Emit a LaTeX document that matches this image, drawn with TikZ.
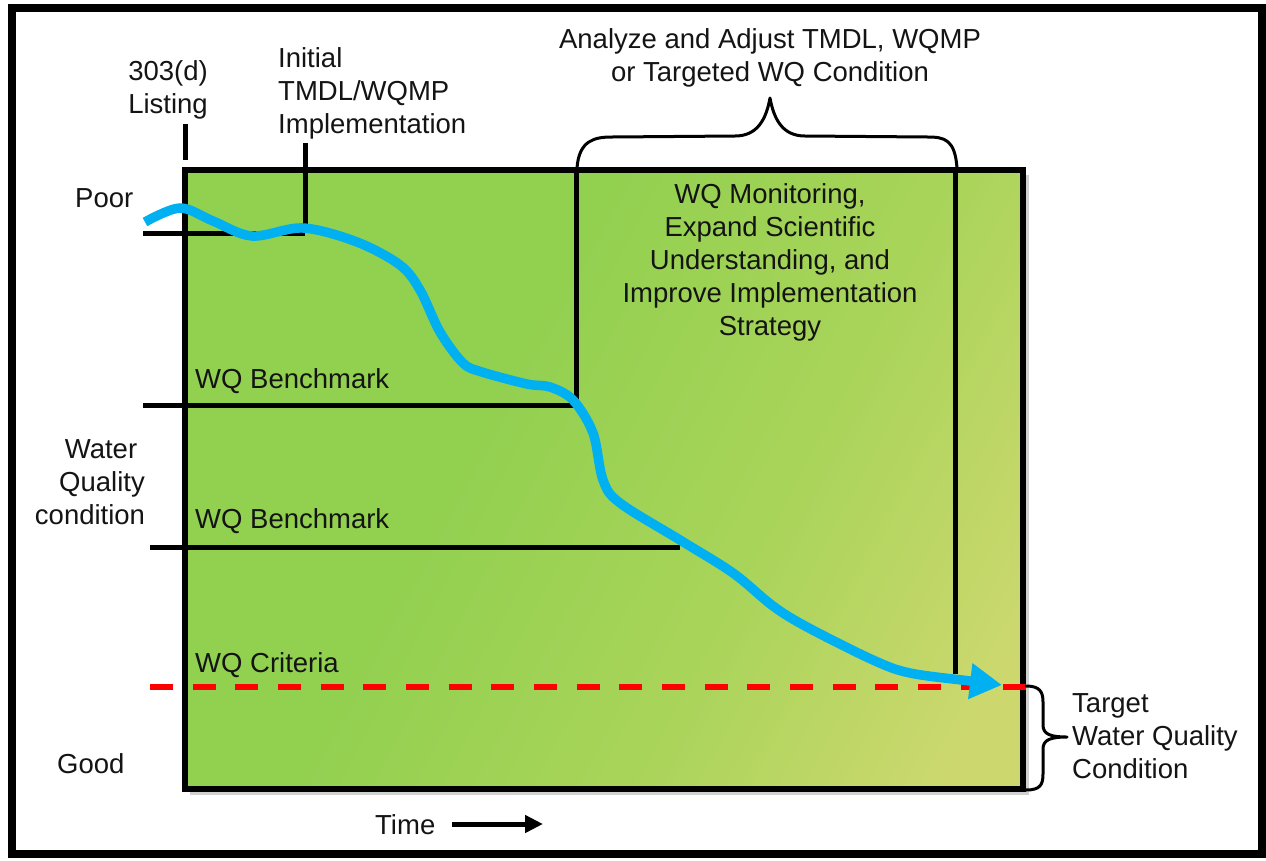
\documentclass[tikz,border=0pt]{standalone}
\usepackage{fontspec}
\setmainfont{Liberation Sans}
\usetikzlibrary{arrows.meta}
\definecolor{gA}{HTML}{92D050}
\definecolor{gB}{HTML}{A9D45A}
\definecolor{gC}{HTML}{CCD86E}
\definecolor{wqblue}{HTML}{00B0F0}
\definecolor{wqred}{HTML}{FF0000}
\definecolor{txt}{HTML}{141414}
\pgfdeclarehorizontalshading{wqshade}{100bp}{color(0bp)=(gA); color(41bp)=(gA); color(61bp)=(gB); color(79bp)=(gC); color(100bp)=(gC)}
\begin{document}
\begin{tikzpicture}[x=1pt,y=-1pt,
  lbl/.style={font=\fontsize{27.5}{33}\selectfont, inner sep=0pt, text=txt},
  bar/.style={line width=5pt, black},
  brace/.style={line width=3pt, black, line cap=round, line join=round},
  flow/.style={line width=9.5pt, wqblue, -{Triangle[length=32pt,width=34pt]}},
  crit/.style={line width=5.5pt, wqred, dash pattern=on 23pt off 19.67pt},
  frame/.style={line width=8pt, black}]
\useasboundingbox (0,0) rectangle (1266,860);
\fill[white] (0,0) rectangle (1266,860);
% outer frame
\draw[frame] (12,8) rectangle (1262,854);
% box shadow and box fill
\fill[black!18] (190,175) rectangle (1029,795);
\shade[shading=wqshade, shading angle=-28] (185,170) rectangle (1023,789);
% coordinates
\coordinate (boxTL) at (185,170);
\coordinate (boxBR) at (1023,789);
\coordinate (lstTop) at (185,124);
\coordinate (lstBot) at (185,160);
\coordinate (impTop) at (305,143);
\coordinate (impBot) at (305,233);
\coordinate (poorL) at (143,233);
\coordinate (bm1L) at (143,405);
\coordinate (bm1R) at (576,405);
\coordinate (bm2L) at (150,547);
\coordinate (bm2R) at (680,547);
\coordinate (v1Top) at (576,170);
\coordinate (v2Top) at (955,170);
\coordinate (v2Bot) at (955,674);
\coordinate (critL) at (150,687);
\coordinate (critR) at (1026,687);
% black lines
\draw[bar] (lstTop) -- (lstBot);
\draw[bar] (impTop) -- (impBot);
\draw[bar] (poorL) -- (impBot);
\draw[bar] (bm1L) -- (bm1R);
\draw[bar] (bm2L) -- (bm2R);
\draw[bar] (v1Top) -- (bm1R);
\draw[bar] (v2Top) -- (v2Bot);
% box border
\draw[line width=6pt] (boxTL) rectangle (boxBR);
% criteria line
\draw[crit] (critL) -- (critR);
% top brace
\draw[brace] (577,168) .. controls (579,140) and (595,137) .. (612,137)
  -- (735,136) .. controls (757,136) and (766,120) .. (770,98)
  .. controls (774,120) and (783,136) .. (805,136)
  -- (928,137) .. controls (945,137) and (955,140) .. (957,168);
% right brace
\draw[brace] (1026,686) .. controls (1040,686) and (1043,692) .. (1043,702)
  -- (1043,725) .. controls (1043,734) and (1050,737) .. (1067,737)
  .. controls (1050,737) and (1043,740) .. (1043,749)
  -- (1043,774) .. controls (1043,785) and (1040,790) .. (1026,790);
% blue flow curve
\draw[flow] plot[smooth, tension=0.55] coordinates {
  (145,222) (180,208) (213,221) (252,236) (303,228) (357,242) (400,265)
  (420,290) (440,332) (463,363) (482,372) (527,384) (550,387) (573,400)
  (593,433) (603,480) (620,503) (680,540) (733,573) (773,606) (807,627)
  (873,660) (910,673) (970,681) (1002,685)};
% labels
\node[lbl, anchor=north, align=center] (listing) at (168,60) {303(d)\\Listing};
\node[lbl, anchor=north west, align=left] (initial) at (278,47) {Initial\\TMDL/WQMP\\Implementation};
\node[lbl, anchor=north, align=center] (analyze) at (770,28) {Analyze and Adjust TMDL, WQMP\\or Targeted WQ Condition};
\node[lbl, anchor=base west] (poor) at (75,207) {Poor};
\node[lbl, anchor=base] (wqc1) at (101,458) {Water};
\node[lbl, anchor=base] (wqc2) at (102,491) {Quality};
\node[lbl, anchor=base] (wqc3) at (90,524) {condition};
\node[lbl, anchor=base west] (good) at (57,773) {Good};
\node[lbl, anchor=base west] (bm1) at (195,388) {WQ Benchmark};
\node[lbl, anchor=base west] (bm2) at (195,528) {WQ Benchmark};
\node[lbl, anchor=base west] (crittext) at (195,672) {WQ Criteria};
\node[lbl, anchor=north, align=center] (monitor) at (770,183) {WQ Monitoring,\\Expand Scientific\\Understanding, and\\Improve Implementation\\Strategy};
\node[lbl, anchor=north west, align=left] (target) at (1072,693) {Target\\Water Quality\\Condition};
\node[lbl, anchor=base west] (time) at (375,834) {Time};
\coordinate (tA) at (452,824);
\coordinate (tB) at (543,824);
\draw[line width=5pt, -{Triangle[length=18pt,width=17pt]}] (tA) -- (tB);
\end{tikzpicture}
\end{document}
